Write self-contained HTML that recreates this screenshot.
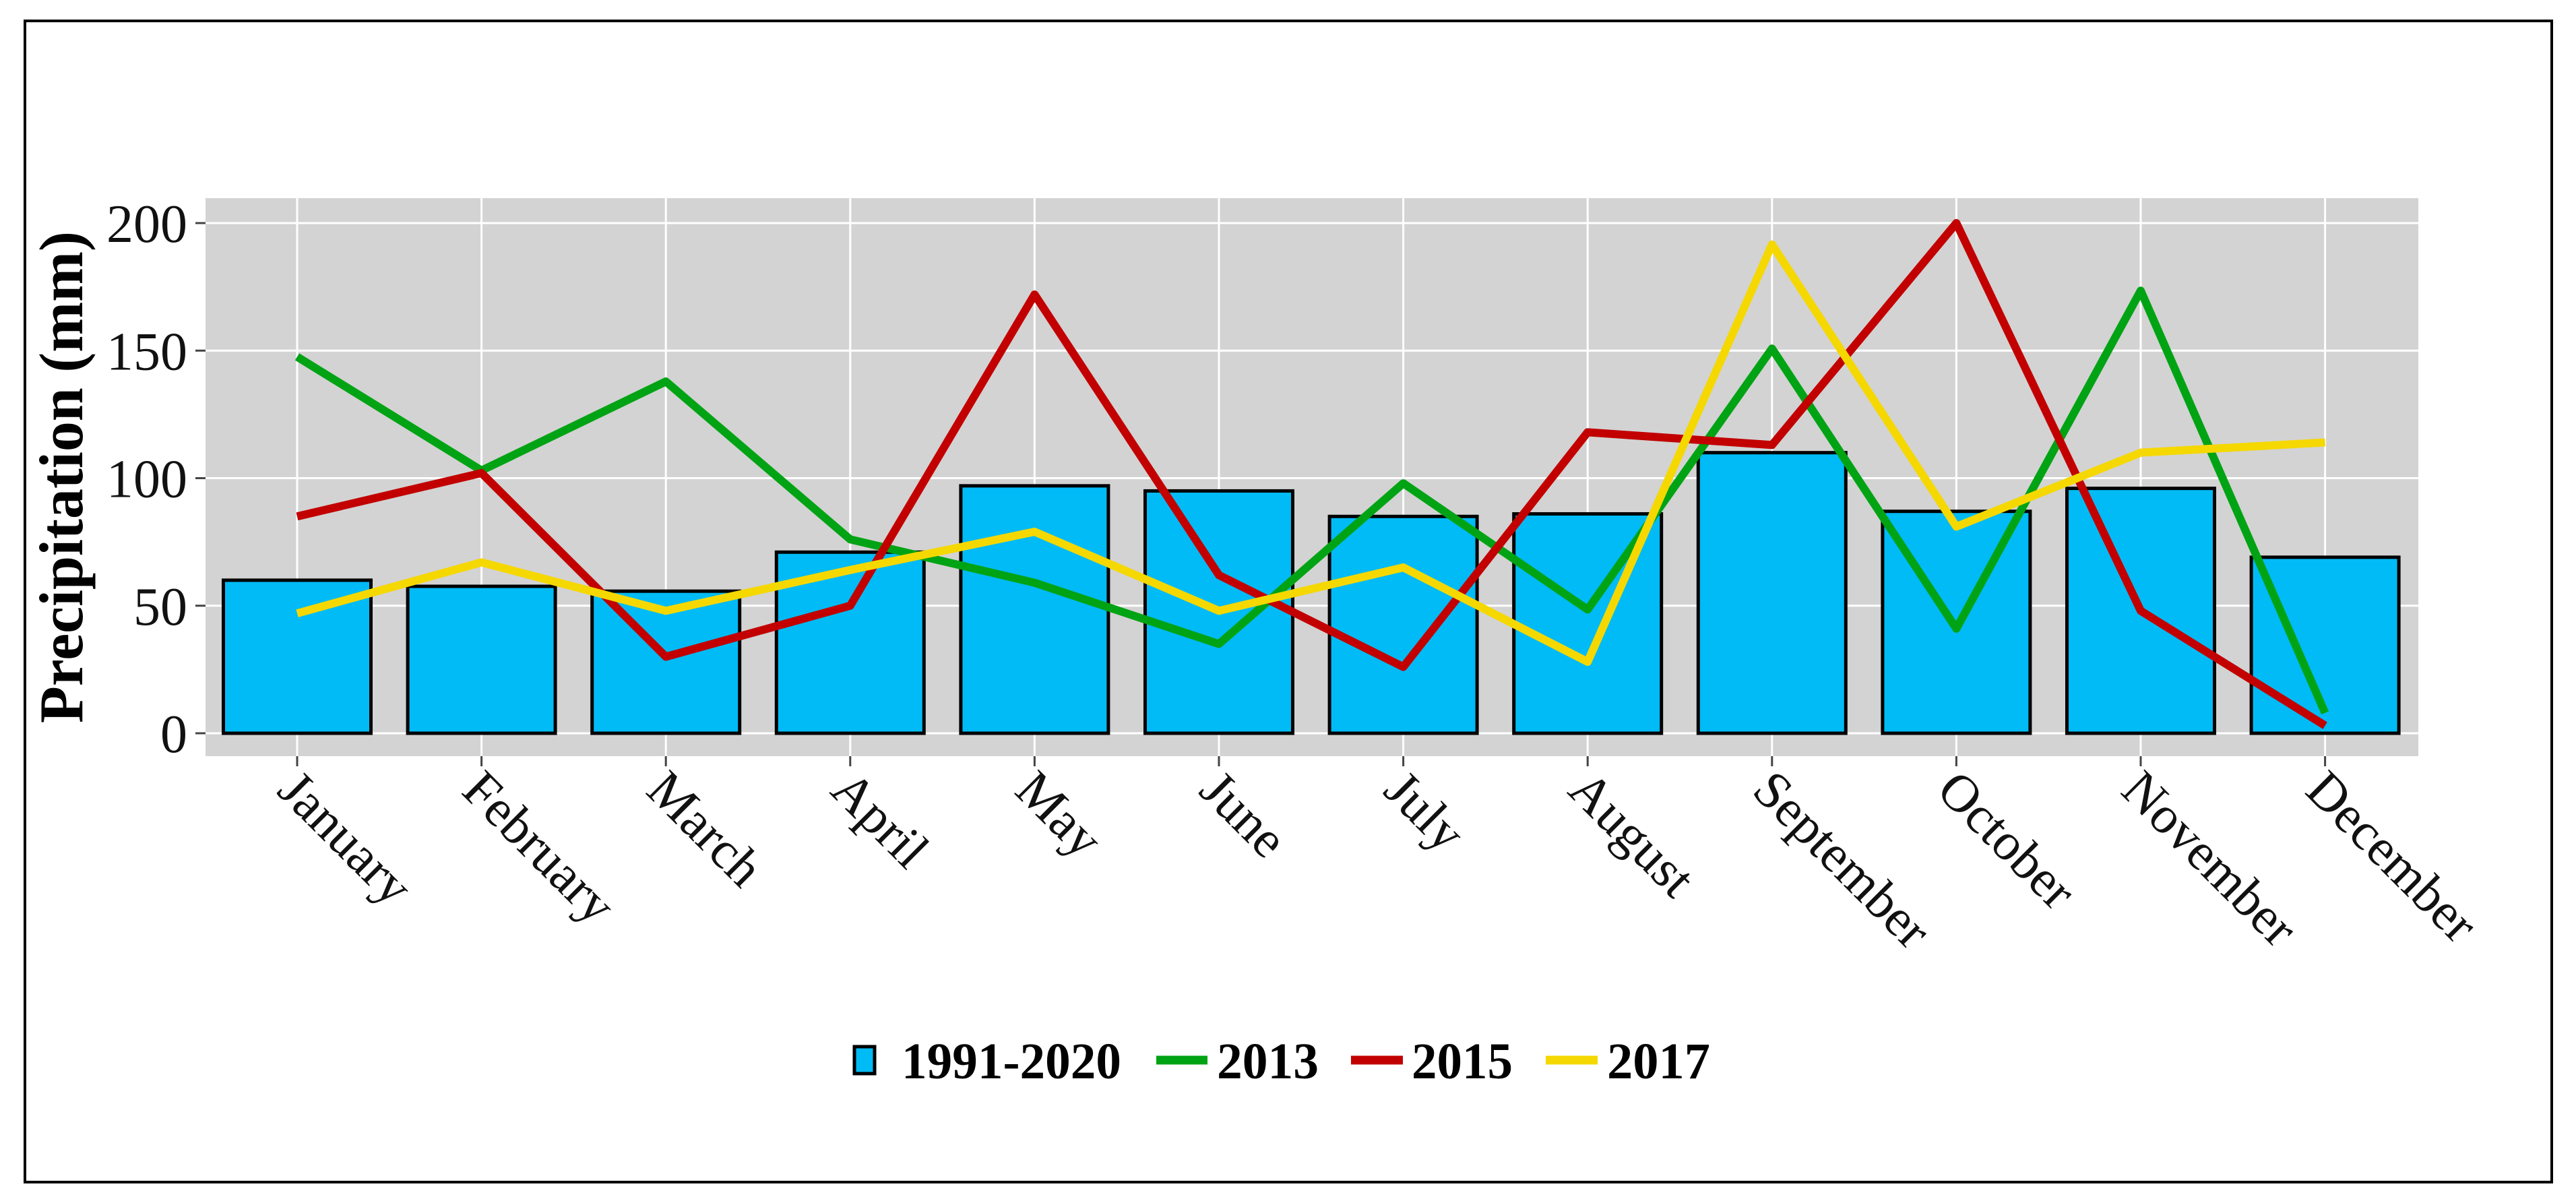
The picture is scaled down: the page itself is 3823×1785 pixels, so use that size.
<!DOCTYPE html>
<html><head><meta charset="utf-8"><style>
html,body{margin:0;padding:0;background:#fff;}
svg{display:block;}
</style></head><body>
<svg id="chart" width="3823" height="1785" xmlns="http://www.w3.org/2000/svg" font-family="'Liberation Serif', serif">
<rect x="37" y="31" width="3750" height="1723" fill="#fff" stroke="#000" stroke-width="4"/>
<rect x="305" y="294" width="3284" height="828" fill="#d3d3d3"/>
<g id="grid"></g>
<g id="bars"></g>
<g id="lines"></g>
<g id="axes"></g>
<text transform="translate(122,708) rotate(-90)" text-anchor="middle" font-size="92" font-weight="bold" textLength="730" lengthAdjust="spacingAndGlyphs">Precipitation (mm)</text>
<g>
<rect x="1268" y="1553" width="30" height="40" fill="#00bbf5" stroke="#000" stroke-width="5"/>
<text x="1338" y="1600" font-size="76" font-weight="bold" textLength="326" lengthAdjust="spacingAndGlyphs">1991-2020</text>
<line x1="1716" y1="1573" x2="1792" y2="1573" stroke="#00a313" stroke-width="13"/>
<text x="1806" y="1600" font-size="76" font-weight="bold" textLength="151" lengthAdjust="spacingAndGlyphs">2013</text>
<line x1="2005" y1="1573" x2="2082" y2="1573" stroke="#c20000" stroke-width="13"/>
<text x="2095" y="1600" font-size="76" font-weight="bold" textLength="150" lengthAdjust="spacingAndGlyphs">2015</text>
<line x1="2294" y1="1573" x2="2371" y2="1573" stroke="#f5d800" stroke-width="13"/>
<text x="2385" y="1600" font-size="76" font-weight="bold" textLength="153" lengthAdjust="spacingAndGlyphs">2017</text>
</g>
</svg>
<script>
const months = ["January","February","March","April","May","June","July","August","September","October","November","December"];
const normal19912020 = [60,57.6,55.7,71,97,95,85,86,110,87,96,69];
const p2013 = [147.6,103,137.9,76,59,35,98,48.5,150.8,41,173.5,8];
const p2015 = [85,102,30,50,172,62,26,118,113,200,48,3];
const p2017 = [47,67,48,64,79,48,65,28,191.6,81,110,114];
const yTicks = [0,50,100,150,200];

const NS = "http://www.w3.org/2000/svg";
const x0 = 441, step = 273.6, barW = 219;
function xScale(i){ return x0 + i*step; }
function yScale(v){ return 1088 - v*(757/200); }
function mk(tag, attrs, parent){
  const e = document.createElementNS(NS, tag);
  for (const k in attrs) e.setAttribute(k, attrs[k]);
  parent.appendChild(e);
  return e;
}
const grid = document.getElementById('grid');
const bars = document.getElementById('bars');
const lines = document.getElementById('lines');
const axes = document.getElementById('axes');

yTicks.forEach(t => {
  const y = yScale(t);
  const g = mk('line', {x1:305, x2:3589, y1:y, y2:y, stroke:'#fff', 'stroke-width':3}, grid);
  
  
  const tk = mk('line', {x1:290, x2:305, y1:y, y2:y, stroke:'#444', 'stroke-width':3}, axes);
  
  
  const tx = mk('text', {x:278, y:y+28, 'text-anchor':'end', 'font-size':80, fill:'#111'}, axes);
  tx.textContent = t;
  
  
});
months.forEach((m, i) => {
  const x = xScale(i);
  const g = mk('line', {x1:x, x2:x, y1:294, y2:1122, stroke:'#fff', 'stroke-width':3}, grid);
  
  
  const tk = mk('line', {x1:x, x2:x, y1:1122, y2:1137, stroke:'#444', 'stroke-width':3}, axes);
  
  
  const tx = mk('text', {x:0, y:0, 'font-size':78, fill:'#111', transform:'translate(' + (x-32) + ',1176) rotate(45)'}, axes);
  tx.textContent = m;
  
  
});
normal19912020.forEach((v, i) => {
  const b = mk('rect', {x:xScale(i)-barW/2, y:yScale(v), width:barW, height:yScale(0)-yScale(v), fill:'#00bbf5', stroke:'#000', 'stroke-width':5}, bars);
  
  
});
function drawLine(arr, color, name){
  const pts = arr.map((v,i) => xScale(i) + ',' + yScale(v)).join(' ');
  const p = mk('polyline', {points:pts, fill:'none', stroke:color, 'stroke-width':12, 'stroke-linejoin':'round'}, lines);
  
  
}
drawLine(p2013, '#00a313', 'line-2013');
drawLine(p2015, '#c20000', 'line-2015');
drawLine(p2017, '#f5d800', 'line-2017');
</script>
</body></html>
